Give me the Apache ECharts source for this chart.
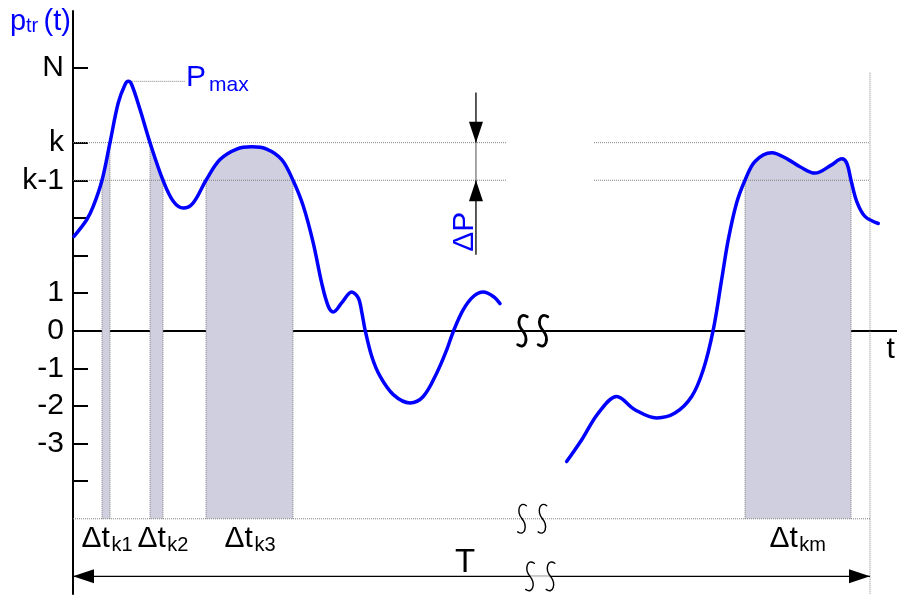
<!DOCTYPE html>
<html>
<head>
<meta charset="utf-8">
<script src="https://cdn.jsdelivr.net/npm/echarts@6/dist/echarts.min.js"></script>
<style>
  html, body { margin: 0; padding: 0; background: #fff; }
  #chart { width: 897px; height: 597px; }
</style>
</head>
<body>
<div id="chart"></div>
<script>
// Process p_tr(t): first stretch of the record, [t, level]
const curveBefore = [
  [0.13, 2.51], [1.72, 2.95], [2.55, 3.31], [3.64, 4.0], [4.64, 5.0],
  [5.68, 6.06], [6.52, 6.54], [6.94, 6.63], [7.37, 6.54], [8.41, 5.88],
  [9.66, 5.0], [11.29, 4.0], [12.58, 3.44], [13.84, 3.26], [15.09, 3.40],
  [16.69, 4.0], [18.44, 4.55], [20.54, 4.83], [22.42, 4.89], [24.30, 4.83],
  [26.19, 4.55], [27.60, 4.0], [28.90, 3.31], [30.15, 2.33], [31.20, 1.27],
  [32.03, 0.65], [32.66, 0.50], [33.71, 0.74], [34.97, 1.03], [35.80, 0.87],
  [36.22, 0.51], [36.64, 0.03], [37.48, -0.68], [38.52, -1.21], [40.19, -1.70],
  [42.28, -1.92], [43.95, -1.75], [45.63, -1.13], [46.89, -0.51], [47.72, -0.02],
  [48.97, 0.56], [50.23, 0.91], [51.48, 1.03], [52.74, 0.91], [53.58, 0.72]
];
// Process p_tr(t): last stretch of the record
const curveAfter = [
  [61.94, -3.48], [63.83, -2.90], [65.91, -2.19], [68.22, -1.75], [70.51, -2.10],
  [73.24, -2.32], [75.53, -2.19], [77.63, -1.75], [79.08, -1.04], [80.34, 0.03],
  [81.39, 1.36], [82.22, 2.42], [83.27, 3.40], [84.32, 4.0], [85.57, 4.50],
  [87.67, 4.73], [89.75, 4.55], [91.22, 4.36], [93.10, 4.19], [95.19, 4.41],
  [96.45, 4.57], [97.08, 4.46], [97.62, 4.0], [98.33, 3.44], [99.37, 3.04],
  [101.04, 2.85]
];

// Dwell intervals Δt_k (start, end) while k-1 <= p_tr < k
const dwellStart = [3.64, 9.66, 16.69, 84.32];
const dwellEnd = [4.64, 11.29, 27.60, 97.62];
const dwellNames = ['k1', 'k2', 'k3', 'km'];
const dwellLabelT = [1.07, 8.09, 19.01, 87.39];

// Level axis
const tickLevels = [7, 5, 4, 3, 2, 1, 0, -1, -2, -3, -4];
const labelLevels = [7, 5, 4, 1, 0, -1, -2, -3];
const labelTexts = ['N', 'k', 'k-1', '1', '0', '-1', '-2', '-3'];

// Reference levels and annotation anchors
const LEVEL_K = 5, LEVEL_K1 = 4, BASE = -5, T_END = 100;
const pMaxPoint = [6.94, 6.63];
const pMaxLineEnd = 14.05;
const dPT = 50.56, dPTop = 6.33, dPBottom = 2.02;
const spanLevel = -6.53;
const levelGapFrom = 54.45, levelGapTo = 65.37;
const breakAxisT = [56.40, 58.97];
const breakBaseT = [56.34, 58.90];
const breakSpanT = [57.34, 59.91];
const rightMarkerTop = 6.86;

const FONT = '"Liberation Sans", Arial, Helvetica, sans-serif';
const BLUE = '#0000ff';
const SHADE = '#cfcfdf';
const DOT = '#808080';
const SMOOTH = 0.35;

const chart = echarts.init(document.getElementById('chart'), null, { renderer: 'canvas' });

const allCurve = curveBefore.concat(curveAfter);
function levelAt(t) {
  const p = allCurve.find(d => d[0] === t);
  return p ? p[1] : null;
}

const shadeSeries = dwellStart.map((a, i) => {
  const src = a < 60 ? curveBefore : curveAfter;
  return {
    type: 'line',
    data: src.filter(d => d[0] >= a && d[0] <= dwellEnd[i]),
    smooth: SMOOTH,
    symbol: 'none',
    silent: true,
    lineStyle: { width: 0 },
    areaStyle: { color: SHADE, opacity: 1, origin: BASE },
    z: 1
  };
});

const curveStyle = { color: BLUE, width: 3.5, cap: 'round', join: 'round' };

chart.setOption({
  animation: false,
  grid: { left: 73, right: 0, top: 11, bottom: 3 },
  xAxis: {
    type: 'value', min: 0, max: 103.39,
    axisLine: { onZero: true, lineStyle: { color: '#000', width: 2 } },
    axisTick: { show: false }, axisLabel: { show: false }, splitLine: { show: false }
  },
  yAxis: {
    type: 'value', min: -7, max: 8.5,
    axisLine: { show: true, lineStyle: { color: '#000', width: 2 } },
    axisTick: { show: true, inside: true, length: 15, customValues: tickLevels,
      lineStyle: { color: '#000', width: 2 } },
    axisLabel: {
      customValues: labelLevels,
      formatter: v => { const i = labelLevels.indexOf(v); return i >= 0 ? labelTexts[i] : ''; },
      color: '#000', fontSize: 30, fontFamily: FONT, margin: 9
    },
    splitLine: { show: false }
  },
  series: shadeSeries.concat([
    { type: 'line', data: curveBefore, smooth: SMOOTH, symbol: 'none', lineStyle: curveStyle, z: 5 },
    { type: 'line', data: curveAfter, smooth: SMOOTH, symbol: 'none', lineStyle: curveStyle, z: 5 }
  ])
});

function P(t, v) { return chart.convertToPixel({ gridIndex: 0 }, [t, v]); }

function seg(a, b, stroke, width, dash, z) {
  return { type: 'line', z: z || 2, silent: true,
    shape: { x1: a[0], y1: a[1], x2: b[0], y2: b[1] },
    style: { stroke: stroke, lineWidth: width, lineDash: dash || null } };
}
function dotted(a, b) { return seg(a, b, DOT, 1, [1, 1], 2); }

// filled arrow head with its tip at `tip`, pointing along (dx, dy)
function head(tip, dx, dy) {
  const len = 21, half = 7;
  const bx = tip[0] - dx * len, by = tip[1] - dy * len;
  return { type: 'polygon', z: 6, silent: true,
    shape: { points: [tip, [bx - dy * half, by + dx * half], [bx + dy * half, by - dx * half]] },
    style: { fill: '#000' } };
}

// break mark: an "S" built from two mirrored cubic arcs meeting at the centre
function breakMark(c, w, h, lw) {
  const x = c[0], y = c[1];
  const style = { stroke: '#000', lineWidth: lw, fill: null, lineCap: 'round' };
  return [
    { type: 'bezierCurve', z: 7, silent: true, style: style,
      shape: { x1: x + 0.8 * w, y1: y - 0.9 * h, cpx1: x - 0.5 * w, cpy1: y - 1.25 * h,
               cpx2: x - 1.1 * w, cpy2: y - 0.5 * h, x2: x, y2: y } },
    { type: 'bezierCurve', z: 7, silent: true, style: style,
      shape: { x1: x, y1: y, cpx1: x + 1.1 * w, cpy1: y + 0.5 * h,
               cpx2: x + 0.5 * w, cpy2: y + 1.25 * h, x2: x - 0.8 * w, y2: y + 0.9 * h } }
  ];
}

// text whose baseline starts at data point (t, v)
function text(str, t, v, size, color, align) {
  const p = P(t, v);
  return { type: 'text', z: 8, silent: true, x: p[0], y: p[1] - 0.3465 * size,
    style: { text: str, font: size + 'px ' + FONT, fill: color,
             textAlign: align || 'left', textVerticalAlign: 'middle' } };
}
function measure(str, size) {
  const ctx = document.createElement('canvas').getContext('2d');
  ctx.font = size + 'px ' + FONT;
  return ctx.measureText(str).width;
}

const g = [];

// level lines k and k-1, interrupted at the time break
[LEVEL_K, LEVEL_K1].forEach(lv => {
  g.push(dotted(P(0, lv), P(levelGapFrom, lv)));
  g.push(dotted(P(levelGapTo, lv), P(T_END, lv)));
});
g.push(dotted(P(0, BASE), P(T_END, BASE)));
g.push(dotted(P(pMaxPoint[0], pMaxPoint[1]), P(pMaxLineEnd, pMaxPoint[1])));
g.push(dotted(P(T_END, rightMarkerTop), P(T_END, -7)));

// edges of the dwell strips
dwellStart.forEach((a, i) => {
  [a, dwellEnd[i]].forEach(t => g.push(dotted(P(t, BASE), P(t, levelAt(t)))));
});

// ΔP dimension
g.push(seg(P(dPT, dPTop), P(dPT, LEVEL_K), '#000', 1.3));
g.push(seg(P(dPT, LEVEL_K), P(dPT, LEVEL_K1), '#777', 1.3));
g.push(seg(P(dPT, LEVEL_K1), P(dPT, dPBottom), '#000', 1.3));
g.push(head(P(dPT, LEVEL_K), 0, 1));
g.push(head(P(dPT, LEVEL_K1), 0, -1));

// T span
g.push(seg(P(0, spanLevel), P(T_END, spanLevel), '#000', 1.3, null, 3));
g.push(seg(P(breakSpanT[0], spanLevel), P(breakSpanT[1], spanLevel), '#cfcfcf', 1.6, null, 4));
g.push(head(P(0, spanLevel), -1, 0));
g.push(head(P(T_END, spanLevel), 1, 0));

// break marks
breakAxisT.forEach(t => g.push(...breakMark(P(t, 0), 6, 15.5, 2.8)));
breakBaseT.forEach(t => g.push(...breakMark(P(t, BASE), 5.4, 14.5, 1.4)));
breakSpanT.forEach(t => g.push(...breakMark(P(t, spanLevel), 5.4, 14.5, 1.4)));

// titles and annotations
g.push(text('p', -7.90, 7.95, 29, BLUE));
g.push(text('tr', -5.90, 7.91, 20, BLUE));
g.push(text('(t)', -3.70, 7.95, 29, BLUE));
g.push(text('P', 14.18, 6.45, 30, BLUE));
g.push(text('max', 17.06, 6.34, 21, BLUE));
g.push(text('t', 102.07, -0.77, 30, '#000'));
g.push(text('T', 49.18, -6.49, 33, '#000', 'center'));

// ΔP, written upwards along the dimension line
(function () {
  const size = 30, p = P(dPT, 2.63);
  g.push({ type: 'text', z: 8, silent: true, x: p[0] - 1 - 0.3465 * size, y: p[1],
    rotation: Math.PI / 2,
    style: { text: 'ΔP', font: size + 'px ' + FONT, fill: BLUE,
             textAlign: 'center', textVerticalAlign: 'middle' } });
})();

// Δt_k labels
dwellNames.forEach((name, i) => {
  const t0 = dwellLabelT[i];
  g.push(text('Δt', t0, -5.80, 30, '#000'));
  const p0 = P(t0, -5.80);
  const w = measure('Δt', 30) + 1.5;
  const sub = P(0, -5.90);
  g.push({ type: 'text', z: 8, silent: true, x: p0[0] + w, y: sub[1] - 0.3465 * 20,
    style: { text: name, font: '20px ' + FONT, fill: '#000',
             textAlign: 'left', textVerticalAlign: 'middle' } });
});

chart.setOption({ graphic: { elements: g } });
</script>
</body>
</html>
